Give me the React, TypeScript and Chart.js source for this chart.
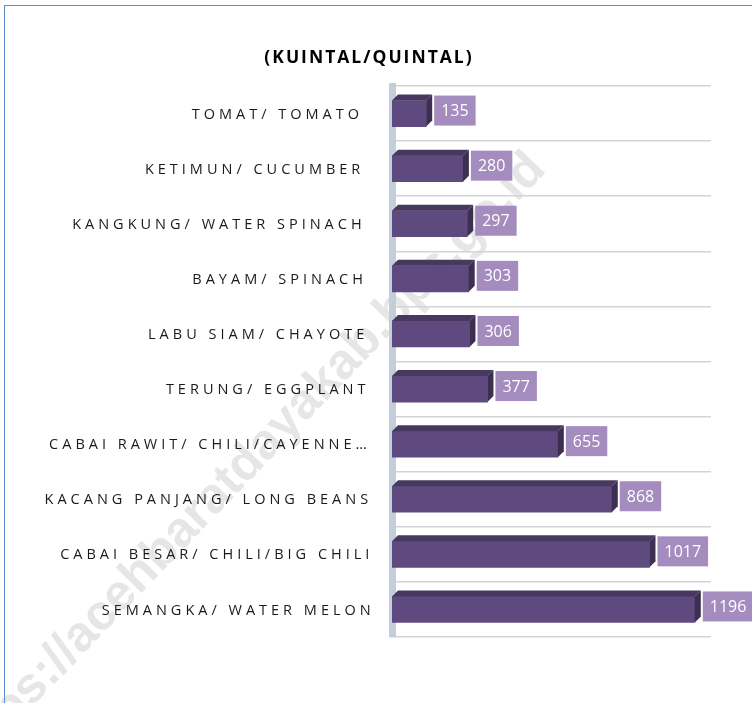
import React, { useEffect, useRef } from "react";
import { Chart, registerables } from "chart.js";

Chart.register(...registerables);

const title = "(KUINTAL/QUINTAL)";
const categories = [
  "TOMAT/ TOMATO",
  "KETIMUN/ CUCUMBER",
  "KANGKUNG/ WATER SPINACH",
  "BAYAM/ SPINACH",
  "LABU SIAM/ CHAYOTE",
  "TERUNG/ EGGPLANT",
  "CABAI RAWIT/ CHILI/CAYENNE…",
  "KACANG PANJANG/ LONG BEANS",
  "CABAI BESAR/ CHILI/BIG CHILI",
  "SEMANGKA/ WATER MELON",
];
const values = [135, 280, 297, 303, 306, 377, 655, 868, 1017, 1196];
const watermark = "https://acehbaratdayakab.bps.go.id";

const FONT = "'Open Sans', 'Noto Sans', sans-serif";

const decorPlugin = {
  id: "decor",
  beforeDraw(chart: any) {
    const ctx = chart.ctx;
    ctx.save();
    ctx.translate(-44, 766);
    ctx.rotate(-0.805);
    ctx.font = `bold 50px 'Liberation Sans', Arial, sans-serif`;
    ctx.fillStyle = "#e6e6e6";
    ctx.textAlign = "left";
    ctx.textBaseline = "middle";
    ctx.fillText(watermark, 0, 0);
    ctx.restore();
  },
  afterDatasetsDraw(chart: any) {
    const ctx = chart.ctx;
    const meta = chart.getDatasetMeta(0);
    const d = 6;
    ctx.save();
    meta.data.forEach((el: any, i: number) => {
      const { x, y, base, height } = el.getProps(["x", "y", "base", "height"], true);
      const top = y - height / 2;
      const bottom = y + height / 2;
      ctx.fillStyle = "#47385f";
      ctx.beginPath();
      ctx.moveTo(base, top);
      ctx.lineTo(x, top);
      ctx.lineTo(x + d, top - d);
      ctx.lineTo(base + d, top - d);
      ctx.closePath();
      ctx.fill();
      ctx.fillStyle = "#3c2f52";
      ctx.beginPath();
      ctx.moveTo(x, top);
      ctx.lineTo(x + d, top - d);
      ctx.lineTo(x + d, bottom - d);
      ctx.lineTo(x, bottom);
      ctx.closePath();
      ctx.fill();
      const txt = String(values[i]);
      ctx.font = `16px ${FONT}`;
      const w = ctx.measureText(txt).width + 14;
      const bx = x + d + 2;
      const bh = 30;
      const cy = y - d / 2;
      ctx.fillStyle = "#a48cbf";
      ctx.fillRect(bx, cy - bh / 2, w, bh);
      ctx.fillStyle = "#ffffff";
      ctx.textAlign = "left";
      ctx.textBaseline = "middle";
      ctx.fillText(txt, bx + 7, cy + 1);
    });
    ctx.restore();
  },
  afterDraw(chart: any) {
    const ctx = chart.ctx;
    const yScale = chart.scales.y;
    ctx.save();
    const sp = 4;
    (ctx as any).letterSpacing = sp + "px";
    ctx.font = `14.5px ${FONT}`;
    ctx.fillStyle = "#1a1a1a";
    ctx.textAlign = "right";
    ctx.textBaseline = "middle";
    categories.forEach((c, i) => {
      const py = yScale.getPixelForTick(i);
      const right = chart.chartArea.left - 33 + i * 1.3 + sp;
      ctx.fillText(c, right, py + 1);
    });
    (ctx as any).letterSpacing = "2px";
    ctx.font = `bold 17.5px ${FONT}`;
    ctx.textAlign = "center";
    ctx.fillStyle = "#000000";
    ctx.fillText(title, 368 + 1, 58);
    ctx.restore();
  },
};

export default function App() {
  const ref = useRef<HTMLCanvasElement | null>(null);
  useEffect(() => {
    if (!ref.current) return;
    const chart = new Chart(ref.current, {
      type: "bar",
      data: {
        labels: categories,
        datasets: [
          {
            data: values,
            backgroundColor: "#5e4a7e",
            borderWidth: 0,
            barThickness: 26,
          },
        ],
      },
      options: {
        indexAxis: "y",
        animation: false,
        responsive: false,
        maintainAspectRatio: false,
        layout: { padding: { left: 392, right: 41, top: 86, bottom: 66 } },
        plugins: { legend: { display: false }, tooltip: { enabled: false }, title: { display: false } },
        scales: {
          x: { display: false, min: 0, max: 1260 },
          y: {
            ticks: { display: false },
            grid: { offset: true, color: "#d4d4d4", lineWidth: 1.5, drawTicks: false },
            border: { display: true, color: "#c3cedb", width: 7 },
          },
        },
      },
      plugins: [decorPlugin],
    });
    return () => chart.destroy();
  }, []);
  return (
    <div style={{ position: "fixed", left: 0, top: 0, width: 752, height: 703, overflow: "hidden", background: "#fff" }}>
      <canvas ref={ref} width={752} height={703} style={{ position: "absolute", left: 0, top: 0, width: 752, height: 703 }} />
      <div
        style={{
          position: "absolute",
          left: 4,
          top: 5,
          width: 800,
          height: 760,
          border: "1.5px solid #5b8fd0",
          pointerEvents: "none",
        }}
      />
    </div>
  );
}
